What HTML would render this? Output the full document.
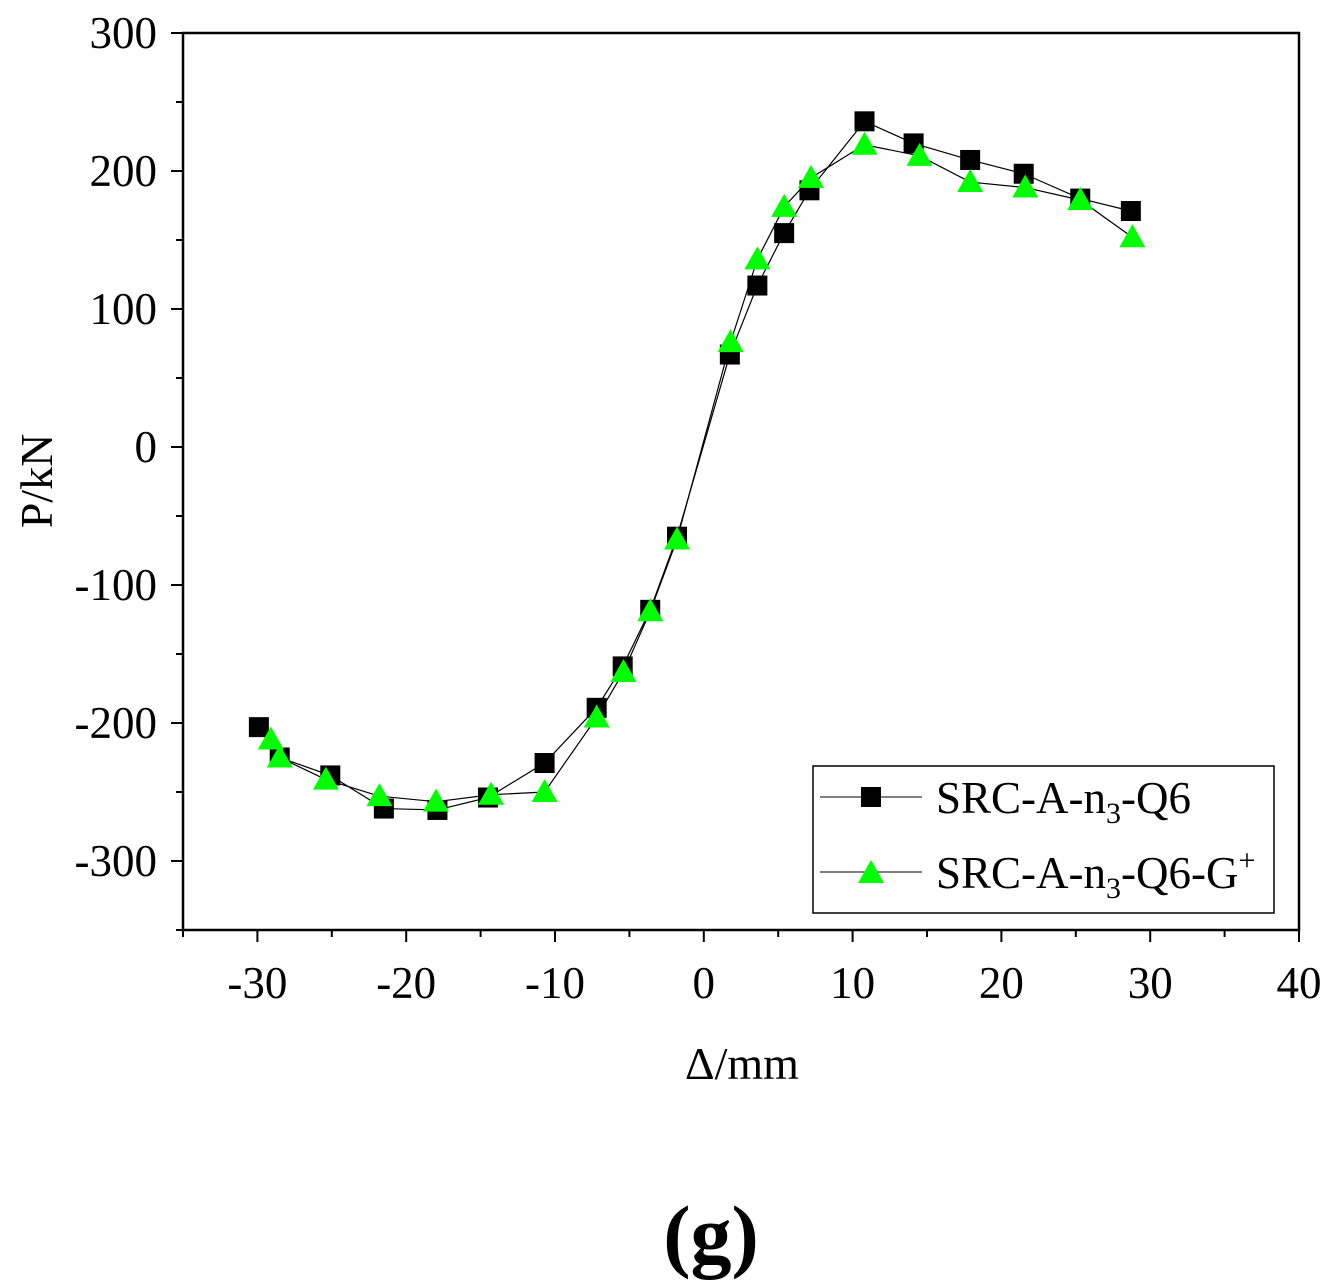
<!DOCTYPE html>
<html><head><meta charset="utf-8"><style>
html,body{margin:0;padding:0;background:#fff;}
svg{display:block;font-family:"Liberation Serif",serif;}
</style></head><body>
<svg id="chart" width="1332" height="1286" viewBox="0 0 1332 1286">
<g id="axes"></g>
<g id="series"></g>
<g id="legend">
<rect x="813" y="766" width="461" height="147" fill="#fff" stroke="#000" stroke-width="1.5"/>
<g>
<line x1="820" y1="797" x2="922" y2="797" stroke="#000" stroke-width="1"/>
<rect x="861" y="787" width="20" height="20" fill="#000"/>
<text x="936" y="813" font-size="45">SRC-A-n<tspan font-size="30" dy="10">3</tspan><tspan dy="-10">-Q6</tspan></text>
</g>
<g>
<line x1="820" y1="872" x2="922" y2="872" stroke="#000" stroke-width="1"/>
<polygon points="871,860 884,883 858,883" fill="#00ff00"/>
<text x="936" y="888" font-size="45">SRC-A-n<tspan font-size="30" dy="10">3</tspan><tspan dy="-10">-Q6-G</tspan><tspan font-size="30" dy="-18">+</tspan></text>
</g>
</g>
<text x="742" y="1079" font-size="46" text-anchor="middle">Δ/mm</text>
<text transform="translate(52,481) rotate(-90)" font-size="46" text-anchor="middle">P/kN</text>
<text x="711" y="1262" font-size="82" font-weight="bold" text-anchor="middle">(g)</text>
</svg>
<script>
const xTicks=[-30,-20,-10,0,10,20,30,40];
const yTicks=[300,200,100,0,-100,-200,-300];
const blackX=[-29.9,-28.5,-25.1,-21.5,-17.9,-14.5,-10.7,-7.2,-5.45,-3.6,-1.8,1.75,3.6,5.4,7.1,10.8,14.1,17.9,21.5,25.3,28.7];
const blackY=[-203,-225,-238,-262,-263,-254,-229,-189,-159,-118,-65,67,117,155,186,236,220,208,198,180,171];
const greenX=[-29.1,-28.5,-25.4,-21.8,-18,-14.3,-10.7,-7.2,-5.4,-3.6,-1.8,1.8,3.6,5.4,7.2,10.8,14.5,17.9,21.6,25.3,28.8];
const greenY=[-212,-225,-241,-253,-257,-252,-250,-196,-163,-119,-67,76,136,174,195,219,211,192,188,179,152];
const NS="http://www.w3.org/2000/svg";
const X0=183,X1=1299,Y0=930,Y1=33,xmin=-35,xmax=40,ymin=-350,ymax=300;
const sx=v=>X0+(v-xmin)/(xmax-xmin)*(X1-X0);
const sy=v=>Y0-(v-ymin)/(ymax-ymin)*(Y0-Y1);
function mk(tag,attrs,parent){const e=document.createElementNS(NS,tag);for(const k in attrs)e.setAttribute(k,attrs[k]);parent.appendChild(e);return e;}
const ax=document.getElementById('axes');
const frame=mk('rect',{x:X0,y:Y1,width:X1-X0,height:Y0-Y1,fill:'none',stroke:'#000','stroke-width':2.5},ax);


for(let v=-35;v<=40;v+=5){const major=xTicks.includes(v);const x=sx(v);
 const t=mk('line',{x1:x,y1:Y0,x2:x,y2:Y0+(major?12:7),stroke:'#000','stroke-width':2},ax);
 
 }
xTicks.forEach(v=>{const t=mk('text',{x:sx(v),y:998,'font-size':45,'text-anchor':'middle'},ax);t.textContent=String(v);
 
 });
for(let v=-350;v<=300;v+=50){const major=yTicks.includes(v);const y=sy(v);
 const t=mk('line',{x1:X0,y1:y,x2:X0-(major?12:7),y2:y,stroke:'#000','stroke-width':2},ax);
 
 }
yTicks.forEach(v=>{const t=mk('text',{x:157,y:sy(v)+15,'font-size':45,'text-anchor':'end'},ax);t.textContent=String(v);
 
 });
const sg=document.getElementById('series');
function drawSeries(xs,ys,name,shape){
 const g=mk('g',{},sg);
 
 
 const pts=xs.map((x,i)=>sx(x)+','+sy(ys[i])).join(' ');
 const l=mk('polyline',{points:pts,fill:'none',stroke:'#000','stroke-width':1.2},g);
 
 
 xs.forEach((x,i)=>{const cx=sx(x),cy=sy(ys[i]);let m;
  if(shape==='square')m=mk('rect',{x:cx-10,y:cy-10,width:20,height:20,fill:'#000'},g);
  else m=mk('polygon',{points:`${cx},${cy-13} ${cx+13},${cy+10} ${cx-13},${cy+10}`,fill:'#00ff00'},g);
  
  });
}
drawSeries(blackX,blackY,'series-src-a-n3-q6','square');
drawSeries(greenX,greenY,'series-src-a-n3-q6-g','triangle');
</script>
</body></html>
